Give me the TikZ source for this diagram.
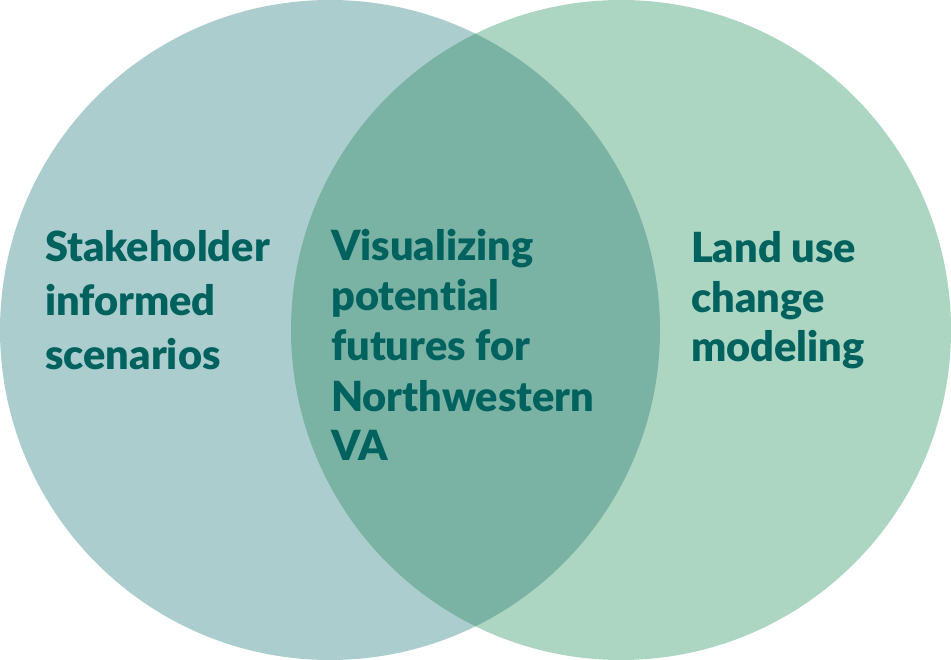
\documentclass[tikz,border=0pt]{standalone}
\usepackage{fontspec}
\setmainfont{Lato}[UprightFont=* Bold, Ligatures=NoCommon]
\definecolor{leftc}{HTML}{ABCDCE}
\definecolor{rightc}{HTML}{ACD6C2}
\definecolor{midc}{HTML}{7AB2A4}
\definecolor{txt}{HTML}{00625E}
\tikzset{lbl/.style={anchor=base west, inner sep=0pt, text=txt, font=\fontsize{41.5}{50}\selectfont\bfseries}}
\begin{document}
\begin{tikzpicture}[x=1pt,y=-1pt]
\useasboundingbox (0,0) rectangle (951,660);
\fill[leftc] (330,330) circle[radius=330];
\fill[rightc] (621,330) circle[radius=330];
\begin{scope}
\clip (330,330) circle[radius=330];
\fill[midc] (621,330) circle[radius=330];
\end{scope}
\node[lbl] (l1) at (45,262) {Stakeholder};
\node[lbl] (l2) at (45,316) {informed};
\node[lbl] (l3) at (45,370) {scenarios};
\node[lbl] (c1) at (331,261) {Visualizing};
\node[lbl] (c2) at (331,311) {potential};
\node[lbl] (c3) at (331,361) {futures for};
\node[lbl] (c4) at (331,411) {Northwestern};
\node[lbl] (c5) at (331,460) {VA};
\node[lbl] (r1) at (691,263) {Land use};
\node[lbl] (r2) at (691,313) {change};
\node[lbl] (r3) at (691,362) {modeling};
\end{tikzpicture}
\end{document}
